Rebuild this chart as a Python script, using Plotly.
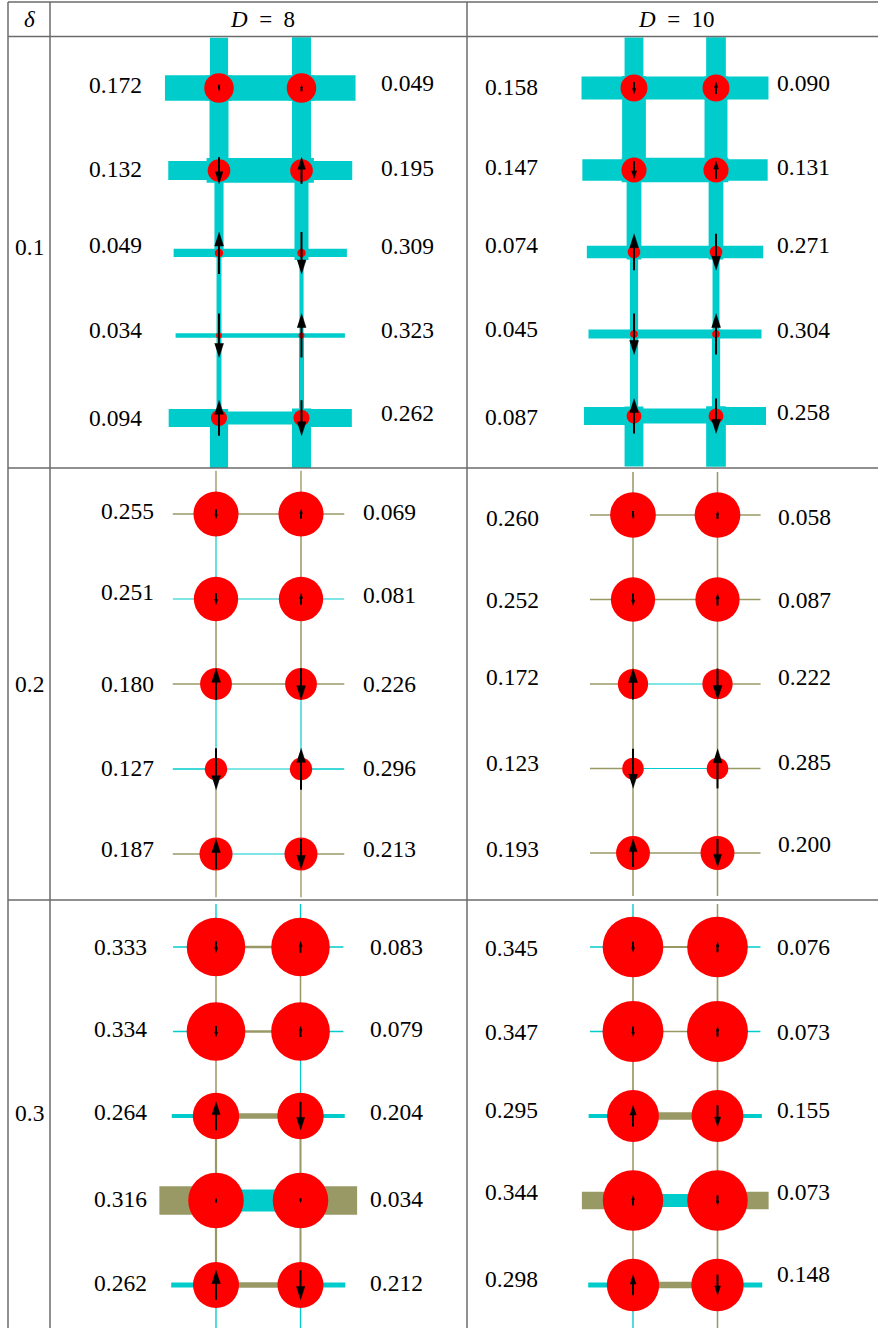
import plotly.graph_objects as go

W, H = 878, 1328

# ------------------------------------------------------------------ data
delta_labels = ["0.1", "0.2", "0.3"]
D_labels = ["8", "10"]

# left numbers: hole density of each row ; right numbers: local moment of each row
hole_d1_D8 = [0.172, 0.132, 0.049, 0.034, 0.094]
mag_d1_D8 = [0.049, 0.195, 0.309, 0.323, 0.262]
hole_d1_D10 = [0.158, 0.147, 0.074, 0.045, 0.087]
mag_d1_D10 = [0.090, 0.131, 0.271, 0.304, 0.258]
hole_d2_D8 = [0.255, 0.251, 0.180, 0.127, 0.187]
mag_d2_D8 = [0.069, 0.081, 0.226, 0.296, 0.213]
hole_d2_D10 = [0.260, 0.252, 0.172, 0.123, 0.193]
mag_d2_D10 = [0.058, 0.087, 0.222, 0.285, 0.200]
hole_d3_D8 = [0.333, 0.334, 0.264, 0.316, 0.262]
mag_d3_D8 = [0.083, 0.079, 0.204, 0.034, 0.212]
hole_d3_D10 = [0.345, 0.347, 0.295, 0.344, 0.298]
mag_d3_D10 = [0.076, 0.073, 0.155, 0.073, 0.148]

# spin orientation of the left-column site in every row (+1 up, -1 down); right column is opposite
spin_d1_D8 = [-1, -1, 1, -1, 1]
spin_d1_D10 = [-1, -1, 1, -1, 1]
spin_d2_D8 = [-1, -1, 1, -1, 1]
spin_d2_D10 = [-1, -1, 1, -1, 1]
spin_d3_D8 = [-1, -1, 1, 1, 1]
spin_d3_D10 = [-1, -1, 1, 1, 1]

# bond magnitudes (lattice units) and signs: c = cyan bond, o = olive bond
# horizontal: rung bond inside the ladder (mid) and periodic bond (wrap) per row
# vertical: [wrap, 0-1, 1-2, 2-3, 3-4] for left (L) and right (R) leg
hmid_d1_D8 = [0.31, 0.30, 0.10, 0.052, 0.16]
hwrap_d1_D8 = [0.31, 0.23, 0.10, 0.052, 0.22]
vL_d1_D8 = [0.22, 0.23, 0.11, 0.06, 0.06]
vR_d1_D8 = [0.23, 0.23, 0.17, 0.05, 0.06]
hmidc_d1_D8 = ["c", "c", "c", "c", "c"]
hwrapc_d1_D8 = ["c", "c", "c", "c", "c"]
vLc_d1_D8 = ["c", "c", "c", "c", "c"]
vRc_d1_D8 = ["c", "c", "c", "c", "c"]

hmid_d1_D10 = [0.28, 0.30, 0.15, 0.11, 0.18]
hwrap_d1_D10 = [0.28, 0.26, 0.15, 0.11, 0.22]
vL_d1_D10 = [0.23, 0.29, 0.18, 0.10, 0.10]
vR_d1_D10 = [0.24, 0.28, 0.18, 0.085, 0.10]
hmidc_d1_D10 = ["c", "c", "c", "c", "c"]
hwrapc_d1_D10 = ["c", "c", "c", "c", "c"]
vLc_d1_D10 = ["c", "c", "c", "c", "c"]
vRc_d1_D10 = ["c", "c", "c", "c", "c"]

hmid_d2_D8 = [0.018, 0.014, 0.018, 0.014, 0.014]
hwrap_d2_D8 = [0.018, 0.014, 0.018, 0.016, 0.018]
vL_d2_D8 = [0.016, 0.014, 0.018, 0.014, 0.016]
vR_d2_D8 = [0.016, 0.018, 0.018, 0.014, 0.016]
hmidc_d2_D8 = ["o", "c", "o", "c", "c"]
hwrapc_d2_D8 = ["o", "c", "o", "c", "o"]
vLc_d2_D8 = ["o", "c", "o", "c", "o"]
vRc_d2_D8 = ["o", "o", "o", "c", "o"]

hmid_d2_D10 = [0.020, 0.018, 0.014, 0.014, 0.018]
hwrap_d2_D10 = [0.020, 0.018, 0.020, 0.018, 0.018]
vL_d2_D10 = [0.018, 0.018, 0.018, 0.018, 0.018]
vR_d2_D10 = [0.018, 0.018, 0.018, 0.018, 0.018]
hmidc_d2_D10 = ["o", "o", "c", "c", "o"]
hwrapc_d2_D10 = ["o", "o", "o", "o", "o"]
vLc_d2_D10 = ["o", "o", "o", "o", "o"]
vRc_d2_D10 = ["o", "o", "o", "o", "o"]

hmid_d3_D8 = [0.028, 0.028, 0.065, 0.26, 0.065]
hwrap_d3_D8 = [0.016, 0.016, 0.047, 0.34, 0.06]
vL_d3_D8 = [0.016, 0.018, 0.018, 0.026, 0.026]
vR_d3_D8 = [0.016, 0.018, 0.014, 0.024, 0.024]
hmidc_d3_D8 = ["o", "o", "o", "c", "o"]
hwrapc_d3_D8 = ["c", "c", "c", "o", "c"]
vLc_d3_D8 = ["c", "o", "o", "o", "o"]
vRc_d3_D8 = ["c", "o", "c", "o", "o"]

hmid_d3_D10 = [0.024, 0.020, 0.088, 0.155, 0.077]
hwrap_d3_D10 = [0.016, 0.016, 0.050, 0.21, 0.06]
vL_d3_D10 = [0.016, 0.020, 0.020, 0.018, 0.018]
vR_d3_D10 = [0.018, 0.020, 0.020, 0.020, 0.020]
hmidc_d3_D10 = ["o", "o", "o", "c", "o"]
hwrapc_d3_D10 = ["c", "c", "c", "o", "c"]
vLc_d3_D10 = ["c", "o", "o", "o", "o"]
vRc_d3_D10 = ["o", "o", "o", "o", "o"]

# ------------------------------------------------------------------ style / layout
CYAN = "#00CCCC"
OLIVE = "#999966"
RED = "#FF0000"
GRID = "#6b6b6b"
BOND_COL = {"c": CYAN, "o": OLIVE}
FONT = "Liberation Serif, Times New Roman, serif"
CIRCLE_SCALE = 2.08   # diameter per unit hole density (lattice units)
ARROW_SCALE = 1.65    # arrow length per unit moment (lattice units)

COL_BOUNDS = [(50, 467), (467, 878)]
ROW_BOUNDS = [(37, 468), (468, 900), (900, 1328)]

panels = [
    dict(r=0, c=0, hole=hole_d1_D8, mag=mag_d1_D8, spin=spin_d1_D8,
         hmid=hmid_d1_D8, hwrap=hwrap_d1_D8, vL=vL_d1_D8, vR=vR_d1_D8,
         hmidc=hmidc_d1_D8, hwrapc=hwrapc_d1_D8, vLc=vLc_d1_D8, vRc=vRc_d1_D8,
         geo=(219, 88, 82.5), lab=(115, 407),
         dyL=[-3, -2, -8, -6, 0], dyR=[-5, -3, -7, -6, -5]),
    dict(r=0, c=1, hole=hole_d1_D10, mag=mag_d1_D10, spin=spin_d1_D10,
         hmid=hmid_d1_D10, hwrap=hwrap_d1_D10, vL=vL_d1_D10, vR=vR_d1_D10,
         hmidc=hmidc_d1_D10, hwrapc=hwrapc_d1_D10, vLc=vLc_d1_D10, vRc=vRc_d1_D10,
         geo=(634, 88, 82), lab=(511, 803),
         dyL=[-1, -3, -7, -5, 1], dyR=[-5, -3, -7, -4, -4]),
    dict(r=1, c=0, hole=hole_d2_D8, mag=mag_d2_D8, spin=spin_d2_D8,
         hmid=hmid_d2_D8, hwrap=hwrap_d2_D8, vL=vL_d2_D8, vR=vR_d2_D8,
         hmidc=hmidc_d2_D8, hwrapc=hwrapc_d2_D8, vLc=vLc_d2_D8, vRc=vRc_d2_D8,
         geo=(216, 514, 85), lab=(127, 389),
         dyL=[-3, -7, 0, -1, -5], dyR=[-2, -4, 0, -1, -5]),
    dict(r=1, c=1, hole=hole_d2_D10, mag=mag_d2_D10, spin=spin_d2_D10,
         hmid=hmid_d2_D10, hwrap=hwrap_d2_D10, vL=vL_d2_D10, vR=vR_d2_D10,
         hmidc=hmidc_d2_D10, hwrapc=hwrapc_d2_D10, vLc=vLc_d2_D10, vRc=vRc_d2_D10,
         geo=(633, 515, 84.5), lab=(512, 804),
         dyL=[3, 0, -7, -6, -4], dyR=[2, 0, -7, -7, -9]),
    dict(r=2, c=0, hole=hole_d3_D8, mag=mag_d3_D8, spin=spin_d3_D8,
         hmid=hmid_d3_D8, hwrap=hwrap_d3_D8, vL=vL_d3_D8, vR=vR_d3_D8,
         hmidc=hmidc_d3_D8, hwrapc=hwrapc_d3_D8, vLc=vLc_d3_D8, vRc=vRc_d3_D8,
         geo=(216, 947, 84.5), lab=(120, 396),
         dyL=[0, -3, -4, -2, -2], dyR=[0, -3, -4, -2, -2]),
    dict(r=2, c=1, hole=hole_d3_D10, mag=mag_d3_D10, spin=spin_d3_D10,
         hmid=hmid_d3_D10, hwrap=hwrap_d3_D10, vL=vL_d3_D10, vR=vR_d3_D10,
         hmidc=hmidc_d3_D10, hwrapc=hwrapc_d3_D10, vLc=vLc_d3_D10, vRc=vRc_d3_D10,
         geo=(633, 947, 84.5), lab=(511, 803),
         dyL=[1, 0, -6, -9, -6], dyR=[0, 0, -6, -9, -11]),
]

fig = go.Figure()
shapes = []
annotations = []
axes = {}

for k, p in enumerate(panels):
    n = k + 1
    xa = "x" if n == 1 else f"x{n}"
    ya = "y" if n == 1 else f"y{n}"
    xl, xr = COL_BOUNDS[p["c"]]
    yt, yb = ROW_BOUNDS[p["r"]]
    X0, Y0, s = p["geo"]
    axes["xaxis" if n == 1 else f"xaxis{n}"] = dict(
        domain=[xl / W, xr / W], range=[(xl - X0) / s, (xr - X0) / s],
        anchor=ya, visible=False, fixedrange=True)
    axes["yaxis" if n == 1 else f"yaxis{n}"] = dict(
        domain=[1 - yb / H, 1 - yt / H], range=[(yb - Y0) / s, (yt - Y0) / s],
        anchor=xa, visible=False, fixedrange=True)

    def rect(x0, x1, y0, y1, col):
        shapes.append(dict(type="rect", xref=xa, yref=ya, x0=x0, x1=x1, y0=y0, y1=y1,
                           line=dict(width=0), fillcolor=BOND_COL[col], layer="below"))

    nrow = len(p["hole"])
    # vertical bonds (square caps)
    for col, wl, cl in ((0, p["vL"], p["vLc"]), (1, p["vR"], p["vRc"])):
        w = wl[0]
        rect(col - w / 2, col + w / 2, -0.5 - w / 2, w / 2, cl[0])
        rect(col - w / 2, col + w / 2, nrow - 1 - w / 2, nrow - 0.5 + w / 2, cl[0])
        for i in range(nrow - 1):
            w = wl[i + 1]
            rect(col - w / 2, col + w / 2, i - w / 2, i + 1 + w / 2, cl[i + 1])
    # horizontal bonds
    for i in range(nrow):
        w = p["hwrap"][i]
        rect(-0.5 - w / 2, w / 2, i - w / 2, i + w / 2, p["hwrapc"][i])
        rect(1 - w / 2, 1.5 + w / 2, i - w / 2, i + w / 2, p["hwrapc"][i])
        w = p["hmid"][i]
        rect(-w / 2, 1 + w / 2, i - w / 2, i + w / 2, p["hmidc"][i])
    # hole density circles
    for i in range(nrow):
        rr = CIRCLE_SCALE * p["hole"][i] / 2
        for col in (0, 1):
            shapes.append(dict(type="circle", xref=xa, yref=ya, x0=col - rr, x1=col + rr,
                               y0=i - rr, y1=i + rr, line=dict(width=0),
                               fillcolor=RED, layer="below"))
    # spin arrows
    sx, sy, hx, hy = [], [], [], []
    for i in range(nrow):
        L = ARROW_SCALE * p["mag"][i]
        hl = min(14 / s, 0.45 * L)
        hw = min(9 / s, 0.65 * hl)
        for col, sgn in ((0, p["spin"][i]), (1, -p["spin"][i])):
            # y axis is reversed: "up" means smaller row value
            tip = i - sgn * L / 2
            tail = i + sgn * L / 2
            base = tip + sgn * hl
            sx += [col, col, None]
            sy += [tail, base - sgn * 0.2 * hl, None]
            hx += [col - hw / 2, col + hw / 2, col, None]
            hy += [base, base, tip, None]
    fig.add_trace(go.Scatter(x=sx, y=sy, xaxis=xa, yaxis=ya, mode="lines",
                             line=dict(color="black", width=2), hoverinfo="skip",
                             showlegend=False))
    fig.add_trace(go.Scatter(x=hx, y=hy, xaxis=xa, yaxis=ya, mode="lines", fill="toself",
                             fillcolor="black", line=dict(color="black", width=0.5),
                             hoverinfo="skip", showlegend=False))
    # value labels
    labL, labR = p["lab"]
    for i in range(nrow):
        annotations.append(dict(xref=xa, yref=ya, x=(labL - X0) / s, y=i,
                                text=f"{p['hole'][i]:.3f}", showarrow=False,
                                xanchor="center", yanchor="middle", yshift=-p["dyL"][i],
                                font=dict(family=FONT, size=23.5, color="black")))
        annotations.append(dict(xref=xa, yref=ya, x=(labR - X0) / s, y=i,
                                text=f"{p['mag'][i]:.3f}", showarrow=False,
                                xanchor="center", yanchor="middle", yshift=-p["dyR"][i],
                                font=dict(family=FONT, size=23.5, color="black")))

# ------------------------------------------------------------------ table frame
def hline(y, x0=8, x1=W):
    shapes.append(dict(type="line", xref="paper", yref="paper", x0=x0 / W, x1=x1 / W,
                       y0=1 - y / H, y1=1 - y / H, line=dict(color=GRID, width=1.5),
                       layer="above"))


def vline(x, y0=2, y1=H):
    shapes.append(dict(type="line", xref="paper", yref="paper", x0=x / W, x1=x / W,
                       y0=1 - y0 / H, y1=1 - y1 / H, line=dict(color=GRID, width=1.5),
                       layer="above"))


for yy in (2, 36.5, 468, 900):
    hline(yy)
for xx in (8, 50, 467):
    vline(xx)

# header
annotations.append(dict(xref="paper", yref="paper", x=29 / W, y=1 - 20 / H,
                        text="<i>δ</i>", showarrow=False, xanchor="center", yanchor="middle",
                        font=dict(family=FONT, size=23, color="black")))
for ci, (x0, x1) in enumerate(COL_BOUNDS):
    annotations.append(dict(xref="paper", yref="paper", x=(x0 + x1) / 2 / W + 0.004, y=1 - 20 / H,
                            text=f"<i>D</i>\u2002=\u2002{D_labels[ci]}", showarrow=False,
                            xanchor="center", yanchor="middle",
                            font=dict(family=FONT, size=23, color="black")))
row_label_y = [247, 684, 1113]
for ri, lab in enumerate(delta_labels):
    annotations.append(dict(xref="paper", yref="paper", x=29 / W, y=1 - row_label_y[ri] / H,
                            text=lab, showarrow=False, xanchor="center", yanchor="middle",
                            font=dict(family=FONT, size=23.5, color="black")))

fig.update_layout(
    width=W, height=H, autosize=False,
    margin=dict(l=0, r=0, t=0, b=0, pad=0),
    paper_bgcolor="white", plot_bgcolor="rgba(0,0,0,0)",
    showlegend=False, shapes=shapes, annotations=annotations,
    **axes,
)

fig.write_html(
    "out.html",
    config={"displayModeBar": False},
    post_script="document.body.style.margin='0';document.body.style.overflow='hidden';",
)
